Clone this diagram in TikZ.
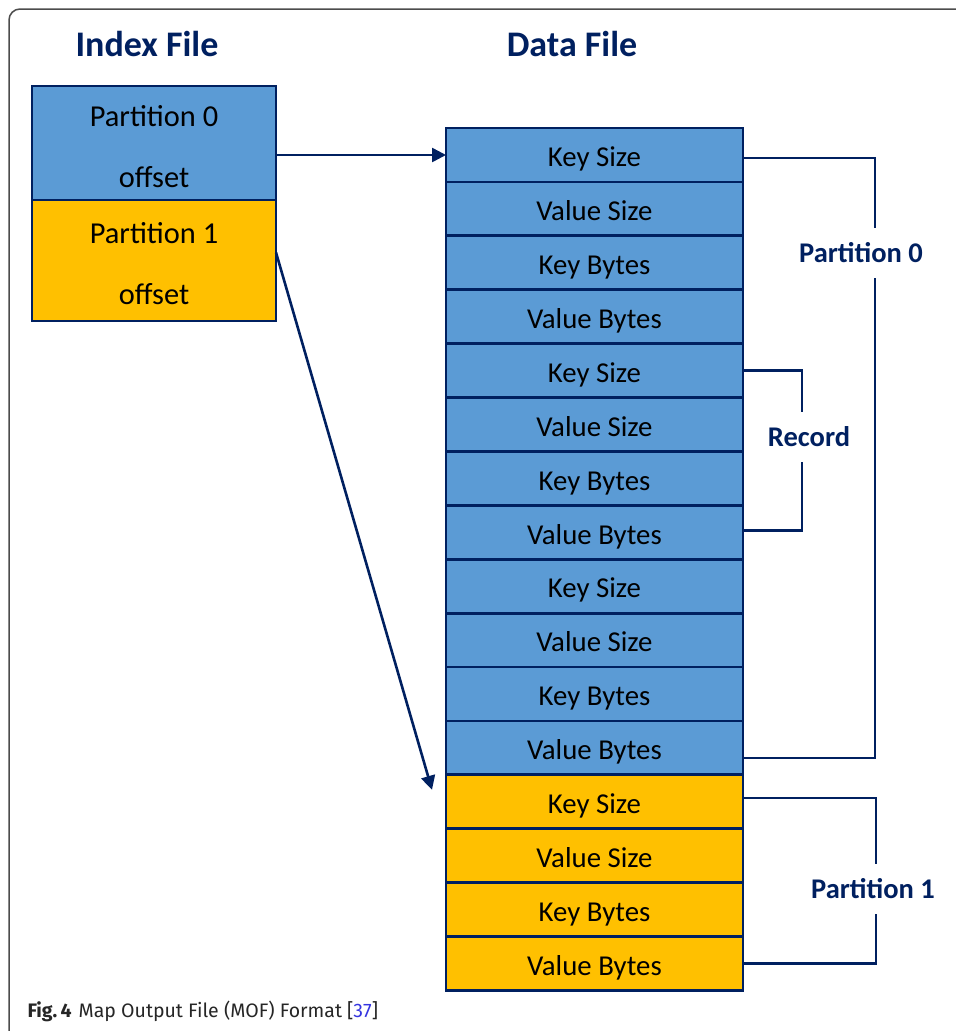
\documentclass[tikz,border=0pt]{standalone}
\usepackage{fontspec}
\setmainfont{Carlito}
\newfontfamily\capfont{Fira Sans}
\usetikzlibrary{positioning,arrows.meta}
\definecolor{navy}{HTML}{002060}
\definecolor{cellblue}{HTML}{5B9BD5}
\definecolor{cellgold}{HTML}{FFC000}
\definecolor{refblue}{HTML}{3535E0}

\begin{document}
\begin{tikzpicture}[
    x=1pt, y=-1pt,
    filehead/.style={font=\fontsize{36}{42}\selectfont\bfseries, text=navy},
    slot/.style={draw=navy, line width=2.8pt, outer sep=0pt, inner sep=0pt,
        minimum width=297pt, minimum height=53.9pt, text height=24pt, text depth=0.6pt,
        font=\fontsize{28.8}{34}\selectfont},
    offslot/.style={draw=navy, line width=2.8pt, outer sep=0pt, inner sep=0pt,
        minimum width=244pt, align=center, text height=88pt, text depth=0pt,
        font=\fontsize{30.4}{61}\selectfont},
    grouplbl/.style={inner sep=0pt, minimum height=50pt, text=navy,
        font=\fontsize{28.5}{34}\selectfont\bfseries},
    brace/.style={draw=navy, line width=2.4pt},
    link/.style={draw=navy, line width=2.6pt, -{Triangle[length=14pt,width=14pt]}}]
    \clip (0,0) rectangle (956,1031);
    \fill[white] (0,0) rectangle (956,1031);
    \draw[black!70, line width=1.5pt, rounded corners=11pt] (9,9) rectangle (990,1050);

    \node [filehead] (idxhead) at (147,44) {Index File};
    \node [filehead] (datahead) at (572,44) {Data File};

    % index file
    \node [offslot, fill=cellblue, minimum height=114pt] (off0) at (154,143) {Partition 0\\offset};
    \node [offslot, fill=cellgold, minimum height=121pt] (off1) [below=0pt of off0] {Partition 1\\offset};

    % data file
    \node [slot, fill=cellblue] (r1) at (594.5,155) {Key Size};
    \node [slot, fill=cellblue] (r2) [below=0pt of r1] {Value Size};
    \node [slot, fill=cellblue] (r3) [below=0pt of r2] {Key Bytes};
    \node [slot, fill=cellblue] (r4) [below=0pt of r3] {Value Bytes};
    \node [slot, fill=cellblue] (r5) [below=0pt of r4] {Key Size};
    \node [slot, fill=cellblue] (r6) [below=0pt of r5] {Value Size};
    \node [slot, fill=cellblue] (r7) [below=0pt of r6] {Key Bytes};
    \node [slot, fill=cellblue] (r8) [below=0pt of r7] {Value Bytes};
    \node [slot, fill=cellblue] (r9) [below=0pt of r8] {Key Size};
    \node [slot, fill=cellblue] (r10) [below=0pt of r9] {Value Size};
    \node [slot, fill=cellblue] (r11) [below=0pt of r10] {Key Bytes};
    \node [slot, fill=cellblue] (r12) [below=0pt of r11] {Value Bytes};
    \node [slot, fill=cellgold] (r13) [below=0pt of r12] {Key Size};
    \node [slot, fill=cellgold] (r14) [below=0pt of r13] {Value Size};
    \node [slot, fill=cellgold] (r15) [below=0pt of r14] {Key Bytes};
    \node [slot, fill=cellgold] (r16) [below=0pt of r15] {Value Bytes};

    % pointers
    \draw [link] (r1.west -| off0.east) -- (r1.west);
    \draw [link] ([yshift=8pt]off1.east) -- ([xshift=-14pt,yshift=12pt]r13.west);

    % groups
    \node [grouplbl] (part0) at (861,253) {Partition 0};
    \node [grouplbl] (rec) at (809,437) {Record};
    \node [grouplbl] (part1) at (873,889) {Partition 1};
    \coordinate (sp0) at (875,0);
    \coordinate (sprec) at (802,0);
    \coordinate (sp1) at (876,0);
    \draw [brace] ([yshift=-3pt]r1.east) -| (sp0 |- part0.north);
    \draw [brace] (sp0 |- part0.south) |- ([yshift=-10pt]r12.east);
    \draw [brace] (r5.east) -| (sprec |- rec.north);
    \draw [brace] (sprec |- rec.south) |- ([yshift=2pt]r8.east);
    \draw [brace] ([yshift=4pt]r13.east) -| (sp1 |- part1.north);
    \draw [brace] (sp1 |- part1.south) |- (r16.east);

    \node [anchor=base west, text=black!85, font=\capfont\fontsize{19.5}{23}\selectfont] (caption) at (24,1017)
        {\textbf{Fig.\,4}\hspace{7pt}Map Output File (MOF) Format [\textcolor{refblue}{37}]};
\end{tikzpicture}
\end{document}
